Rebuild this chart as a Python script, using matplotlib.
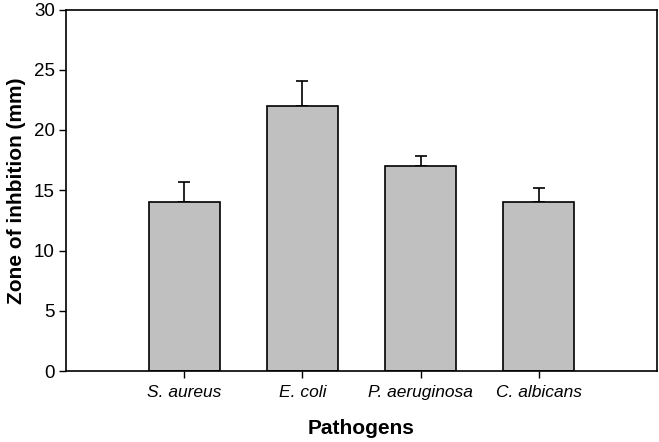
import matplotlib
matplotlib.use("Agg")
import matplotlib.pyplot as plt

categories = ["S. aureus", "E. coli", "P. aeruginosa", "C. albicans"]
values = [14.0, 22.0, 17.0, 14.0]
errors = [1.7, 2.1, 0.85, 1.2]
yticks = [0, 5, 10, 15, 20, 25, 30]

plt.rcParams['font.family'] = ['Liberation Sans', 'DejaVu Sans']

fig = plt.figure(figsize=(6.59, 4.42), dpi=100)
ax = fig.add_axes([66/659, 1 - 371/442, (657-66)/659, (371-9.5)/442])

pos = list(range(1, len(categories) + 1))
ax.bar(pos, values, width=0.6, color="#c0c0c0", edgecolor="black", linewidth=1.2, zorder=2)
ax.errorbar(pos, values, yerr=[[0]*len(errors), errors], fmt="none", ecolor="black",
            elinewidth=1.2, capsize=4.5, capthick=1.2, zorder=1)

ax.set_xlim(0, 5)
ax.set_ylim(0, 30)
ax.set_yticks(yticks)
ax.set_xticks(pos)
ax.set_xticklabels(categories, fontstyle="italic", fontsize=12.5)
ax.tick_params(axis="y", labelsize=13.5, direction="out", length=5, width=1, pad=3)
ax.tick_params(axis="x", direction="out", length=5, width=1, pad=5)
for s in ax.spines.values():
    s.set_linewidth(1.2)

ax.set_xlabel("Pathogens", fontsize=15, fontweight="bold", labelpad=14)
ax.set_ylabel("Zone of inhbition (mm)", fontsize=15, fontweight="bold", labelpad=6)

fig.savefig("out.png", dpi=100)
